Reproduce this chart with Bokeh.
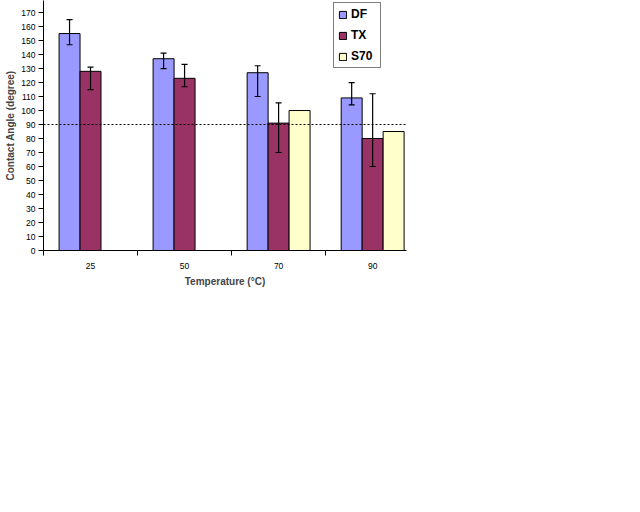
from bokeh.plotting import figure
from bokeh.models import (ColumnDataSource, Whisker, Span, FixedTicker, Range1d,
                          Legend, LegendItem, TeeHead)
from bokeh.embed import file_html
from bokeh.resources import INLINE

# ---- data -------------------------------------------------------------
temperatures = ["25", "50", "70", "90"]
df_vals = [155, 137, 127, 109]
df_upper = [165, 141, 132, 120]
df_lower = [147, 130, 110, 104]
tx_vals = [128, 123, 91, 80]
tx_upper = [131, 133, 105.5, 112]
tx_lower = [115, 117, 70, 60]
s70_vals = [None, None, 100, 85]
reference_angle = 90
y_ticks = list(range(0, 181, 10))

# ---- styling ------------------------------------------------------------
DF_COLOR = "#9999FF"
TX_COLOR = "#993366"
S70_COLOR = "#FFFFCC"
FONT = "Liberation Sans"
BAR_W = 0.223

centers = [i + 0.5 for i in range(len(temperatures))]

p = figure(output_backend="svg", toolbar_location=None,
           frame_width=363, frame_height=250,
           x_range=Range1d(0, 3.86), y_range=Range1d(0, 178.6),
           min_border_left=43, min_border_top=0, min_border_right=2,
           min_border_bottom=0)
p.outline_line_color = None
p.grid.visible = False
p.background_fill_color = "white"
p.border_fill_color = "white"


def series_source(vals, upper, lower, offset):
    rows = [(c + offset, v, u, l) for c, v, u, l in zip(centers, vals, upper, lower) if v is not None]
    return ColumnDataSource(dict(x=[r[0] for r in rows], top=[r[1] for r in rows],
                                 upper=[r[2] for r in rows], lower=[r[3] for r in rows]))


src_df = series_source(df_vals, df_upper, df_lower, -BAR_W)
src_tx = series_source(tx_vals, tx_upper, tx_lower, 0.0)
src_s70 = series_source(s70_vals, s70_vals, s70_vals, BAR_W)

r_df = p.vbar(x="x", top="top", width=BAR_W, source=src_df, fill_color=DF_COLOR,
              line_color="black", line_width=1)
r_tx = p.vbar(x="x", top="top", width=BAR_W, source=src_tx, fill_color=TX_COLOR,
              line_color="black", line_width=1)
r_s70 = p.vbar(x="x", top="top", width=BAR_W, source=src_s70, fill_color=S70_COLOR,
               line_color="black", line_width=1)

p.add_layout(Span(location=reference_angle, dimension="width", line_color="black",
                  line_width=1, line_dash="2 2", level="overlay"))

for src in (src_df, src_tx):
    w = Whisker(base="x", upper="upper", lower="lower", source=src, line_color="black",
                line_width=1.2, level="overlay",
                upper_head=TeeHead(size=6, line_color="black", line_width=1.2),
                lower_head=TeeHead(size=6, line_color="black", line_width=1.2))
    p.add_layout(w)

# ---- axes ---------------------------------------------------------------
xa = p.xaxis[0]
xa.ticker = FixedTicker(ticks=centers, minor_ticks=[0, 1, 2, 3])
xa.major_label_overrides = {c: t for c, t in zip(centers, temperatures)}
xa.major_tick_out = 0
xa.major_tick_in = 0
xa.minor_tick_out = 5
xa.minor_tick_in = 0
xa.minor_tick_line_color = "black"
xa.major_label_standoff = 7
xa.major_label_text_font = FONT
xa.major_label_text_font_size = "8.5px"
xa.major_label_text_color = "black"
xa.axis_label = "Temperature (°C)"
xa.axis_label_text_font = FONT
xa.axis_label_text_font_style = "bold"
xa.axis_label_text_font_size = "10px"
xa.axis_label_standoff = 4
xa.axis_line_color = "black"

ya = p.yaxis[0]
ya.ticker = FixedTicker(ticks=y_ticks, minor_ticks=[])
ya.major_tick_out = 5
ya.major_tick_in = 0
ya.major_label_standoff = 3
ya.major_label_text_font = FONT
ya.major_label_text_font_size = "8.5px"
ya.major_label_text_color = "black"
ya.axis_label = "Contact Angle (degree)"
ya.axis_label_text_font = FONT
ya.axis_label_text_font_style = "bold"
ya.axis_label_text_font_size = "10px"
ya.axis_label_standoff = 2
ya.axis_line_color = "black"

# ---- legend -------------------------------------------------------------
legend = Legend(items=[LegendItem(label="DF", renderers=[r_df]),
                       LegendItem(label="TX", renderers=[r_tx]),
                       LegendItem(label="S70", renderers=[r_s70])],
                location=(290, 182), orientation="vertical",
                glyph_width=9, glyph_height=9, label_height=13, label_standoff=4,
                label_width=25, spacing=7, padding=4, margin=0,
                label_text_font=FONT, label_text_font_style="bold",
                label_text_font_size="12px", label_text_color="black",
                border_line_color="black", border_line_width=1,
                background_fill_color="white", background_fill_alpha=1.0)
p.add_layout(legend)

open("out.html", "w").write(file_html(p, INLINE))
